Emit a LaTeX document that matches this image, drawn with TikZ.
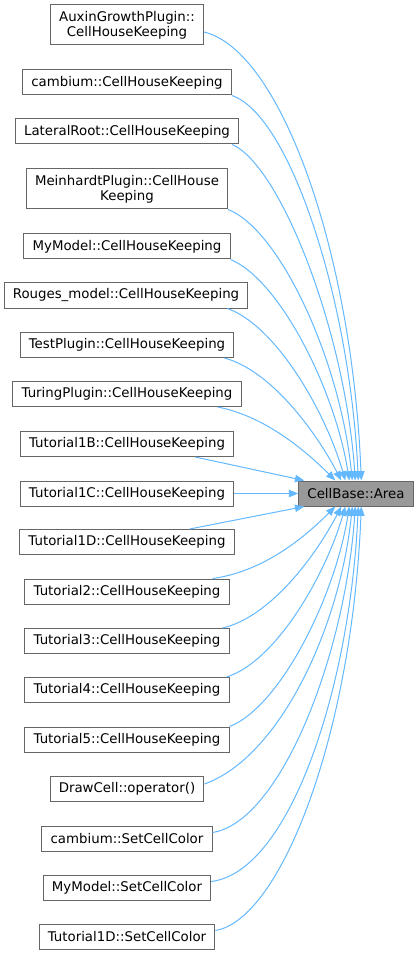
\documentclass[tikz,border=0pt]{standalone}
\usepackage{fontspec}
\setmainfont{DejaVu Sans}
\usetikzlibrary{calc,arrows.meta}
\definecolor{dox-border}{HTML}{666666}
\definecolor{dox-fill}{HTML}{999999}
\definecolor{dox-edge}{HTML}{63B8FF}

\begin{document}
\begin{tikzpicture}[
  x=0.75pt, y=-0.75pt,
  font=\fontsize{10pt}{11.25pt}\selectfont,
  every node/.style={align=center},
  fn/.style={rectangle, draw=dox-border, line width=0.75pt, fill=white, minimum height=18.75pt, inner xsep=6.5pt, inner ysep=2pt},
  fnhl/.style={fn, fill=dox-fill},
  callarrow/.style={-{Triangle[length=7pt, width=5.5pt]}, line width=0.75pt, dox-edge}
]
  \useasboundingbox (0,0) rectangle (420,955);

  % the called function
  \node[fnhl] (area) at (356,493.5) {CellBase::Area};

  % callers
  \node[fn, minimum height=30pt] (aux) at (127,25) {AuxinGrowthPlugin::\\CellHouseKeeping};
  \node[fn] (cambhk) at (127,82.5) {cambium::CellHouseKeeping};
  \node[fn] (lathk) at (127,131.5) {LateralRoot::CellHouseKeeping};
  \node[fn, minimum height=30pt] (meinhk) at (127,189) {MeinhardtPlugin::CellHouse\\Keeping};
  \node[fn] (mymodhk) at (127,246.5) {MyModel::CellHouseKeeping};
  \node[fn] (rougeshk) at (126,295.5) {Rouges\_model::CellHouseKeeping};
  \node[fn] (testhk) at (127,345) {TestPlugin::CellHouseKeeping};
  \node[fn] (turinghk) at (127,394) {TuringPlugin::CellHouseKeeping};
  \node[fn] (tut1bhk) at (127,444) {Tutorial1B::CellHouseKeeping};
  \node[fn] (tut1chk) at (127,493.5) {Tutorial1C::CellHouseKeeping};
  \node[fn] (tut1dhk) at (127,542) {Tutorial1D::CellHouseKeeping};
  \node[fn] (tut2hk) at (127,591.5) {Tutorial2::CellHouseKeeping};
  \node[fn] (tut3hk) at (127,641) {Tutorial3::CellHouseKeeping};
  \node[fn] (tut4hk) at (127,690) {Tutorial4::CellHouseKeeping};
  \node[fn] (tut5hk) at (127,739.5) {Tutorial5::CellHouseKeeping};
  \node[fn] (drawcell) at (127,789) {DrawCell::operator()};
  \node[fn] (cambset) at (127,838.5) {cambium::SetCellColor};
  \node[fn] (mymodset) at (127,887.5) {MyModel::SetCellColor};
  \node[fn] (tut1dset) at (127,936.5) {Tutorial1D::SetCellColor};

  % calls from above
  \draw[callarrow] ($(aux.east)+(0,7)$) .. controls (280,50) and (352,250) .. ($(area.north west)+(63,0)$);
  \draw[callarrow] (cambhk.south east) .. controls (290,115) and (350,300) .. ($(area.north west)+(60,0)$);
  \draw[callarrow] ($(lathk.south east)+(-7,0)$) .. controls (280,165) and (345,330) .. ($(area.north west)+(57,0)$);
  \draw[callarrow] (meinhk.south east) .. controls (280,230) and (340,360) .. ($(area.north west)+(54,0)$);
  \draw[callarrow] (mymodhk.south east) .. controls (280,280) and (335,390) .. ($(area.north west)+(51,0)$);
  \draw[callarrow] ($(rougeshk.south east)+(-21,0)$) .. controls (275,325) and (325,410) .. ($(area.north west)+(47,0)$);
  \draw[callarrow] ($(testhk.south east)+(-10,0)$) .. controls (270,370) and (315,430) .. ($(area.north west)+(43,0)$);
  \draw[callarrow] ($(turinghk.south east)+(-24,0)$) .. controls (260,415) and (300,445) .. ($(area.north west)+(37,0)$);
  \draw[callarrow] ($(tut1bhk.south east)+(-39,0)$) -- ($(area.north west)+(6,0)$);
  \draw[callarrow] (tut1chk.east) -- (area.west);
  \draw[callarrow] ($(tut1dhk.north east)+(-45,0)$) -- ($(area.south west)+(6,0)$);

  % calls from below
  \draw[callarrow] ($(tut2hk.north east)+(-17,0)$) .. controls (260,572) and (300,542) .. ($(area.south west)+(37,0)$);
  \draw[callarrow] ($(tut3hk.north east)+(-7,0)$) .. controls (270,617) and (315,557) .. ($(area.south west)+(43,0)$);
  \draw[callarrow] ($(tut4hk.north east)+(-3,0)$) .. controls (275,662) and (325,577) .. ($(area.south west)+(47,0)$);
  \draw[callarrow] (tut5hk.north east) .. controls (280,707) and (335,597) .. ($(area.south west)+(51,0)$);
  \draw[callarrow] ($(drawcell.east)+(0,-5)$) .. controls (280,757) and (340,627) .. ($(area.south west)+(54,0)$);
  \draw[callarrow] ($(cambset.east)+(0,-6)$) .. controls (280,822) and (345,657) .. ($(area.south west)+(57,0)$);
  \draw[callarrow] ($(mymodset.east)+(0,-6)$) .. controls (290,872) and (350,687) .. ($(area.south west)+(60,0)$);
  \draw[callarrow] ($(tut1dset.east)+(0,-6)$) .. controls (280,920) and (352,737) .. ($(area.south west)+(63,0)$);
\end{tikzpicture}
\end{document}
